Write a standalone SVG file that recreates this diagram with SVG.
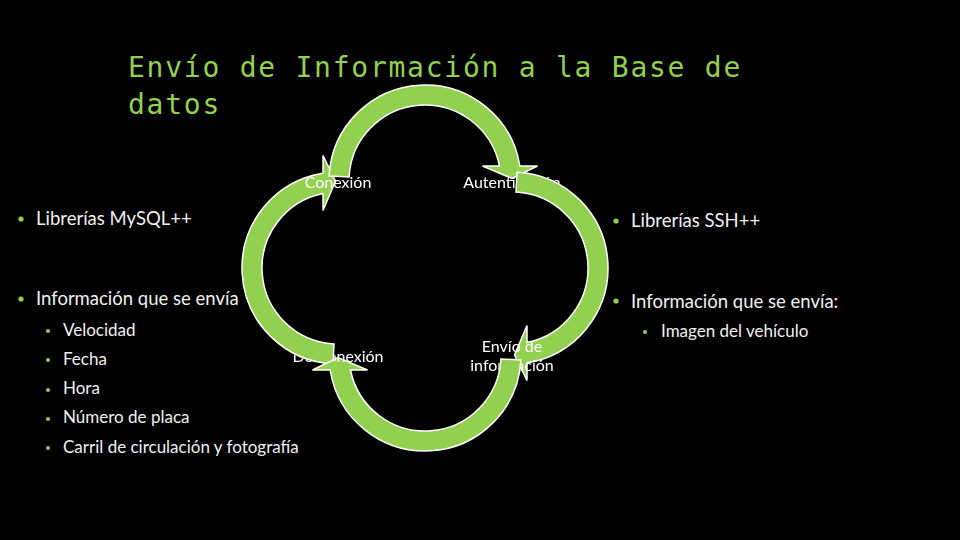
<svg xmlns="http://www.w3.org/2000/svg" xmlns:xlink="http://www.w3.org/1999/xlink" width="960" height="540" viewBox="0 0 960 540">
<style>
.title{font-family:"DejaVu Sans Mono","Liberation Mono",monospace;font-size:28px;letter-spacing:1.75px;fill:#92D050}
.l1{font-family:Lato,"Open Sans",sans-serif;font-size:18.5px;fill:#F0F0F0}
.l2{font-family:Lato,"Open Sans",sans-serif;font-size:17px;fill:#F0F0F0}
.lbl{font-family:Lato,"Open Sans",sans-serif;font-size:16px;fill:#FFFFFF;text-anchor:middle}
.b1{fill:#92D050}
.arc{fill:#92D050;stroke:#FFFFFF;stroke-width:1.5;stroke-linejoin:miter}
.mk{fill:#000000;stroke:#000000;stroke-width:1.5}
</style>
<defs>
<path id="arrowL" d="M 332.98 363.87 A 96 96 0 0 1 323 173.18 L 323 155.5 L 335.5 181 L 323 210.5 L 323 193.5 A 76 76 0 0 0 334.02 343.9 Z"/>
<mask id="mTop" maskUnits="userSpaceOnUse" x="0" y="0" width="960" height="540">
<rect width="960" height="540" fill="#FFFFFF"/>
<use xlink:href="#arrowL" class="mk" transform="rotate(90 425 268)"/>
</mask>
<mask id="mRight" maskUnits="userSpaceOnUse" x="0" y="0" width="960" height="540">
<rect width="960" height="540" fill="#FFFFFF"/>
<use xlink:href="#arrowL" class="mk" transform="rotate(180 425 268)"/>
</mask>
<mask id="mBottom" maskUnits="userSpaceOnUse" x="0" y="0" width="960" height="540">
<rect width="960" height="540" fill="#FFFFFF"/>
<use xlink:href="#arrowL" class="mk" transform="rotate(270 425 268)"/>
</mask>
<mask id="mLeft" maskUnits="userSpaceOnUse" x="0" y="0" width="960" height="540">
<rect width="960" height="540" fill="#FFFFFF"/>
<use xlink:href="#arrowL" class="mk"/>
</mask>
</defs>
<rect width="960" height="540" fill="#000000"/>
<g id="title">
<text class="title" x="128" y="77">Envío de Información a la Base de</text>
<text class="title" x="128" y="114">datos</text>
</g>
<g id="left-list">
<circle class="b1" cx="21" cy="219" r="2.6"/>
<text class="l1" x="36" y="225">Librerías MySQL++</text>
<circle class="b1" cx="21" cy="299" r="2.6"/>
<text class="l1" x="36" y="305">Información que se envía</text>
<circle class="b1" cx="48" cy="331" r="2"/>
<text class="l2" x="63" y="336">Velocidad</text>
<circle class="b1" cx="48" cy="360" r="2"/>
<text class="l2" x="63" y="365">Fecha</text>
<circle class="b1" cx="48" cy="390" r="2"/>
<text class="l2" x="63" y="394">Hora</text>
<circle class="b1" cx="48" cy="419" r="2"/>
<text class="l2" x="63" y="423">Número de placa</text>
<circle class="b1" cx="48" cy="448" r="2"/>
<text class="l2" x="63" y="453">Carril de circulación y fotografía</text>
</g>
<g id="right-list">
<circle class="b1" cx="616" cy="221" r="2.6"/>
<text class="l1" x="631" y="227">Librerías SSH++</text>
<circle class="b1" cx="616" cy="301" r="2.6"/>
<text class="l1" x="631" y="308">Información que se envía:</text>
<circle class="b1" cx="645" cy="332" r="2"/>
<text class="l2" x="661" y="337">Imagen del vehículo</text>
</g>
<g id="connectors">
<use xlink:href="#arrowL" class="arc"/>
<use xlink:href="#arrowL" class="arc" transform="rotate(90 425 268)"/>
<use xlink:href="#arrowL" class="arc" transform="rotate(180 425 268)"/>
<use xlink:href="#arrowL" class="arc" transform="rotate(270 425 268)"/>
</g>
<g id="node-conexion" mask="url(#mTop)"><text class="lbl" x="338" y="188">Conexión</text></g>
<g id="node-autenticacion" mask="url(#mRight)"><text class="lbl" x="512" y="188">Autenticación</text></g>
<g id="node-envio" mask="url(#mBottom)"><text class="lbl" x="512" y="352">Envío de</text><text class="lbl" x="512" y="371">información</text></g>
<g id="node-desconexion" mask="url(#mLeft)"><text class="lbl" x="338" y="362">Desconexión</text></g>
</svg>
